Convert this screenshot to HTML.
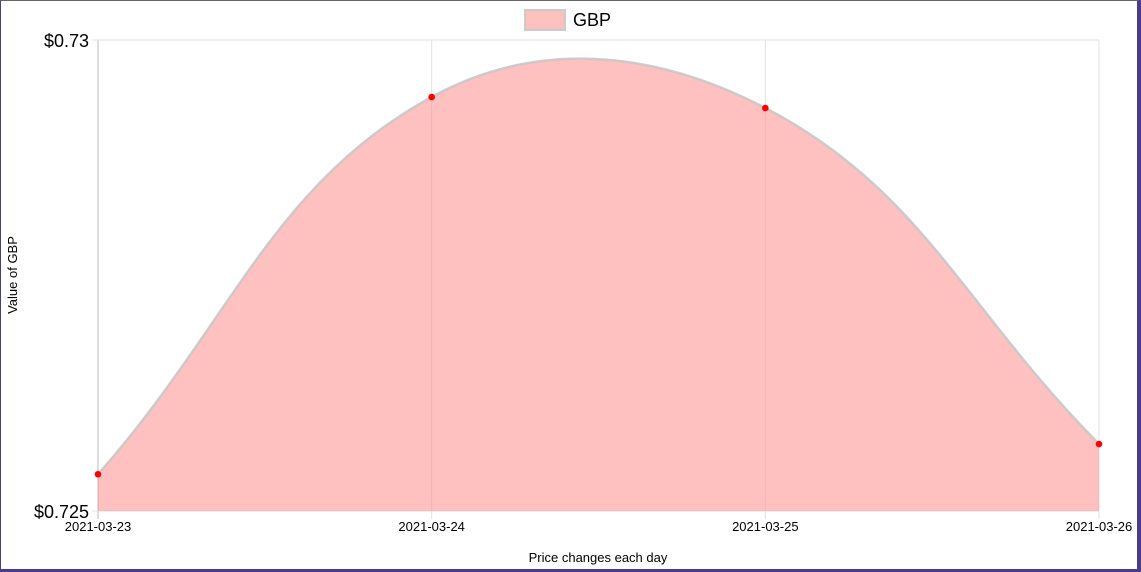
<!DOCTYPE html>
<html><head><meta charset="utf-8"><style>
html,body{margin:0;padding:0;background:#fff;}
#wrap{position:relative;width:1141px;height:572px;box-sizing:border-box;border-top:1px solid #666;border-right:4px solid #4b3b8c;border-bottom:3px solid #4b3b8c;border-left:1px solid #4b3b8c;overflow:hidden}
svg{position:absolute;left:-1px;top:-1px}
text{font-family:"Liberation Sans",sans-serif;fill:#000}
</style></head><body>
<div id="wrap">
<svg id="chart" width="1141" height="572"></svg>
</div>
<script>
const categories=["2021-03-23","2021-03-24","2021-03-25","2021-03-26"];
const values=[0.72539,0.729395,0.729278,0.725711];
const yTicks=[0.725,0.73];
const yTickLabels=["$0.725","$0.73"];
const NS="http://www.w3.org/2000/svg";
const svg=document.getElementById('chart');
const L=98,R=1099,T=40,B=511,yMin=0.725,yMax=0.73;
const xs=i=>L+(R-L)*i/(categories.length-1);
const ys=v=>B-(v-yMin)/(yMax-yMin)*(B-T);
function mk(t,a,p){const e=document.createElementNS(NS,t);for(const k in a)e.setAttribute(k,a[k]);(p||svg).appendChild(e);return e;}
// grid
categories.forEach((c,i)=>{const g=mk('line',{x1:xs(i),x2:xs(i),y1:T,y2:B+8,stroke:i==0?'#bbb':'#e2e2e2'});


const t=mk('text',{x:xs(i),y:B+20,'font-size':13,'text-anchor':'middle'});t.textContent=c;

});
yTicks.forEach((v,i)=>{const g=mk('line',{x1:L-6,x2:R,y1:ys(v),y2:ys(v),stroke:'#e2e2e2'});


const t=mk('text',{x:L-9,y:ys(v)+7,'font-size':18,'text-anchor':'end'});t.textContent=yTickLabels[i];

});
// spline (chart.js style, tension 0.4)
const pts=values.map((v,i)=>({x:xs(i),y:ys(v)}));
const tension=0.4;
const cps=pts.map((p,i)=>{const prev=pts[i-1]||p,next=pts[i+1]||p;
const d01=Math.hypot(p.x-prev.x,p.y-prev.y),d12=Math.hypot(next.x-p.x,next.y-p.y);
let s01=d01/(d01+d12),s12=d12/(d01+d12);if(isNaN(s01))s01=0;if(isNaN(s12))s12=0;
const fa=tension*s01,fb=tension*s12;
return {px:p.x-fa*(next.x-prev.x),py:p.y-fa*(next.y-prev.y),nx:p.x+fb*(next.x-prev.x),ny:p.y+fb*(next.y-prev.y)};});
let d=`M${pts[0].x},${pts[0].y}`;
for(let i=1;i<pts.length;i++){d+=` C${cps[i-1].nx},${cps[i-1].ny} ${cps[i].px},${cps[i].py} ${pts[i].x},${pts[i].y}`;}
const area=mk('path',{d:d+` L${pts[pts.length-1].x},${B} L${pts[0].x},${B} Z`,fill:'rgba(255,140,140,0.55)'});


const line=mk('path',{d:d,fill:'none',stroke:'rgba(200,200,200,0.9)','stroke-width':2.5});


pts.forEach(p=>{const c=mk('circle',{cx:p.x,cy:p.y,r:3.3,fill:'#ff0000'});

});
// legend
const lg=mk('g',{});
mk('rect',{x:525,y:10,width:40,height:20,fill:'rgba(255,140,140,0.55)',stroke:'rgba(200,200,200,0.9)','stroke-width':2},lg);
const lt=mk('text',{x:573,y:26,'font-size':18},lg);lt.textContent='GBP';
// axis titles
const xt=mk('text',{x:598,y:562,'font-size':13,'text-anchor':'middle'});xt.textContent='Price changes each day';

const yt=mk('text',{x:0,y:0,'font-size':13,'text-anchor':'middle',transform:'translate(17,275) rotate(-90)'});yt.textContent='Value of GBP';

</script>
</body></html>
